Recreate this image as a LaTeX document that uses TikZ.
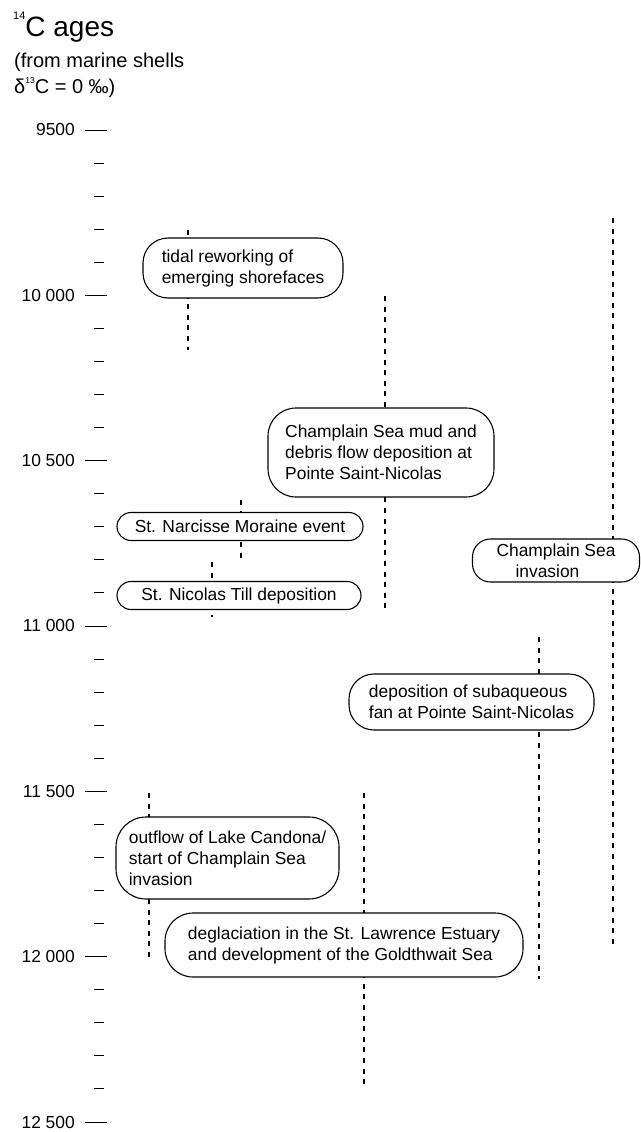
\documentclass[tikz,border=0pt]{standalone}
\usepackage{fontspec}
\setmainfont{Liberation Sans}
\begin{document}
\begin{tikzpicture}[x=1pt,y=-1pt,
  evbox/.style={draw, fill=white, line width=1.1pt, inner sep=0pt, align=left,
    font=\fontsize{17.4}{21}\selectfont},
  rangeline/.style={line width=2.8pt, dash pattern=on 5pt off 5.6pt},
  majortick/.style={line width=1pt},
  minortick/.style={line width=1pt},
  agelabel/.style={anchor=east, inner sep=0pt, font=\fontsize{17.4}{21}\selectfont},
  headtext/.style={anchor=base west, inner sep=0pt}]
\useasboundingbox (0,0) rectangle (640,1132);

% heading
\node[headtext, font=\fontsize{28}{32}\selectfont] (title) at (13,37)
  {\raisebox{17pt}{\fontsize{11}{11}\selectfont 14}C ages};
\node[headtext, font=\fontsize{20}{24}\selectfont] (sub1) at (14,67) {(from marine shells};
\node[headtext, font=\fontsize{20}{24}\selectfont] (sub2) at (14,93)
  {δ\raisebox{10pt}{\fontsize{8.5}{9}\selectfont 13}C = 0 ‰)};

% axis ticks
\foreach \k in {0,...,30}{
  \pgfmathtruncatemacro\m{mod(\k,5)}
  \pgfmathsetmacro\yy{130+\k*33.0667}
  \ifnum\m=0
    \draw[majortick] (85,\yy) -- (107,\yy);
  \else
    \draw[minortick] (94,\yy) -- (104,\yy);
  \fi
}
\node[agelabel] (a9500)  at (75,130)    {9500};
\node[agelabel] (a10000) at (75,295.3)  {10 000};
\node[agelabel] (a10500) at (75,460.7)  {10 500};
\node[agelabel] (a11000) at (75,626)    {11 000};
\node[agelabel] (a11500) at (75,791.3)  {11 500};
\node[agelabel] (a12000) at (75,956.7)  {12 000};
\node[agelabel] (a12500) at (75,1122)   {12 500};

% range lines
\coordinate (l1t) at (188,230);  \coordinate (l1b) at (188,350);
\coordinate (l2t) at (385,296);  \coordinate (l2b) at (385,608);
\coordinate (l3t) at (241,500);  \coordinate (l3b) at (241,558);
\coordinate (l4t) at (212,562);  \coordinate (l4b) at (212,617);
\coordinate (l5t) at (613,218);  \coordinate (l5b) at (613,949);
\coordinate (l6t) at (539,637);  \coordinate (l6b) at (539,979);
\coordinate (l7t) at (149,793);  \coordinate (l7b) at (149,957);
\coordinate (l8t) at (364,793);  \coordinate (l8b) at (364,1086);
\foreach \i in {1,...,8}{ \draw[rangeline] (l\i t) -- (l\i b); }

% event boxes
\node[evbox, minimum width=200pt, minimum height=60pt, rounded corners=25pt] (b1) at (243,268)
  {tidal reworking of\\emerging shorefaces};
\node[evbox, minimum width=226pt, minimum height=89pt, rounded corners=28pt] (b2) at (381,452.5)
  {Champlain Sea mud and\\debris flow deposition at\\Pointe Saint-Nicolas};
\node[evbox, minimum width=246pt, minimum height=28pt, rounded corners=14pt] (b3) at (240,526.5)
  {St. Narcisse Moraine event};
\node[evbox, minimum width=244pt, minimum height=28pt, rounded corners=14pt] (b4) at (239,595.5)
  {St. Nicolas Till deposition};
\node[evbox, align=center, minimum width=167pt, minimum height=43pt, rounded corners=18pt] (b5) at (556,560.5)
  {Champlain Sea\\invasion\hspace*{17pt}};
\node[evbox, minimum width=245pt, minimum height=56pt, rounded corners=25pt] (b6) at (471.5,702)
  {deposition of subaqueous\\fan at Pointe Saint-Nicolas};
\node[evbox, minimum width=223pt, minimum height=82pt, rounded corners=30pt] (b7) at (227.5,858)
  {outflow of Lake Candona/\\start of Champlain Sea\\invasion};
\node[evbox, minimum width=358pt, minimum height=64pt, rounded corners=28pt] (b8) at (344,945)
  {deglaciation in the St. Lawrence Estuary\\and development of the Goldthwait Sea};
\end{tikzpicture}
\end{document}
